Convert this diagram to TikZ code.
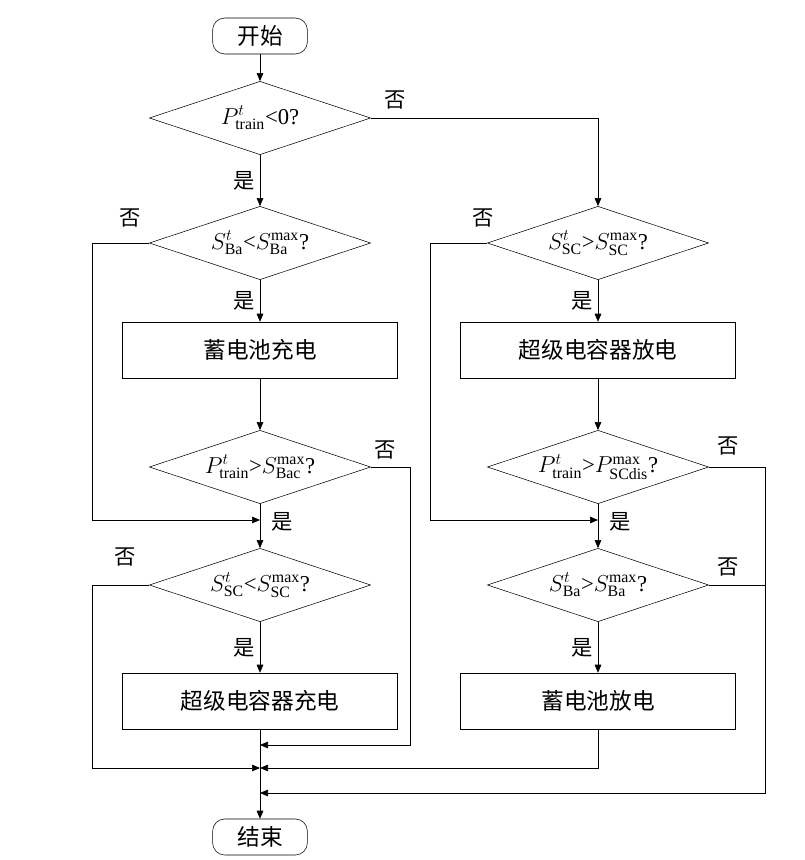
\documentclass[tikz,border=0pt]{standalone}
\usepackage{fontspec}
\usepackage{amsmath}
\setmainfont{Liberation Serif}
\newfontfamily\cjk{Noto Sans CJK SC}
\usetikzlibrary{shapes.geometric,arrows.meta}
\begin{document}
\begin{tikzpicture}[x=0.75pt,y=-0.75pt,font=\fontsize{17}{20}\selectfont,
	term/.style={draw,rounded corners=9pt,minimum width=71pt,minimum height=27pt,inner sep=0pt},
	dec/.style={draw,diamond,aspect=3,minimum width=166pt,minimum height=55pt,inner sep=0pt},
	box/.style={draw,minimum width=206pt,minimum height=42pt},
	line/.style={-{Triangle[length=6pt,width=5pt]}},
	lbl/.style={font=\cjk\fontsize{16}{19}\selectfont}]
	\useasboundingbox (0,0) rectangle (805,860);

	\node[term] (start) at (260, 36)  {\cjk 开始};
	\node[dec]  (d1)    at (260,118)  {$P^t_{\mathrm{train}}$<0?};
	\node[dec]  (d2)    at (260,243)  {$S^t_{\mathrm{Ba}}$<$S^{\mathrm{max}}_{\mathrm{Ba}}$?};
	\node[box]  (b1)    at (260,350)  {\cjk 蓄电池充电};
	\node[dec]  (d4)    at (260,467)  {$P^t_{\mathrm{train}}$>$S^{\mathrm{max}}_{\mathrm{Bac}}$?};
	\node[dec]  (d5)    at (260,585)  {$S^t_{\mathrm{SC}}$<$S^{\mathrm{max}}_{\mathrm{SC}}$?};
	\node[box]  (b2)    at (260,701)  {\cjk 超级电容器充电};
	\node[term] (stop)  at (260,837)  {\cjk 结束};

	\node[dec]  (d3)    at (598,243)  {$S^t_{\mathrm{SC}}$>$S^{\mathrm{max}}_{\mathrm{SC}}$?};
	\node[box]  (b3)    at (598,350)  {\cjk 超级电容器放电};
	\node[dec]  (d6)    at (598,467)  {$P^t_{\mathrm{train}}$>$P^{\mathrm{max}}_{\mathrm{SCdis}}$?};
	\node[dec]  (d7)    at (598,585)  {$S^t_{\mathrm{Ba}}$>$S^{\mathrm{max}}_{\mathrm{Ba}}$?};
	\node[box]  (b4)    at (598,701)  {\cjk 蓄电池放电};

	\coordinate (m1) at (260,520);
	\coordinate (m2) at (598,520);
	\coordinate (j1) at (260,745);
	\coordinate (j2) at (260,768);
	\coordinate (j3) at (260,793);

	% left column
	\draw[line] (start) -- (d1);
	\draw[line] (d1) -- node[lbl,left,pos=0.5]{是} (d2);
	\draw[line] (d2) -- node[lbl,left,pos=0.5]{是} (b1);
	\draw[line] (b1) -- (d4);
	\draw[line] (d4) -- (d5);
	\node[lbl] at (282,522) {是};
	\draw[line] (d5) -- node[lbl,left,pos=0.5]{是} (b2);
	\draw[line] (b2) -- (stop);
	\draw[line] (d2.west) -- (92,243) -- (92,520) -- (m1);
	\node[lbl] at (130,218) {否};
	\draw[line] (d4.east) -- (410,467) -- (410,745) -- (j1);
	\node[lbl] at (385,450) {否};
	\draw[line] (d5.west) -- (92,585) -- (92,768) -- (j2);
	\node[lbl] at (125,557) {否};

	% right column
	\draw[line] (d1.east) -- (598,118) -- (d3);
	\node[lbl] at (395,100) {否};
	\draw[line] (d3) -- node[lbl,left,pos=0.5]{是} (b3);
	\draw[line] (b3) -- (d6);
	\draw[line] (d6) -- (d7);
	\node[lbl] at (620,522) {是};
	\draw[line] (d7) -- node[lbl,left,pos=0.5]{是} (b4);
	\draw[line] (d3.west) -- (430,243) -- (430,520) -- (m2);
	\node[lbl] at (483,218) {否};
	\draw[line] (d6.east) -- (765,467) -- (765,793) -- (j3);
	\node[lbl] at (728,446) {否};
	\draw (d7.east) -- (765,585);
	\node[lbl] at (728,567) {否};
	\draw[line] (b4.south) -- (598,768) -- (j2);
\end{tikzpicture}
\end{document}
